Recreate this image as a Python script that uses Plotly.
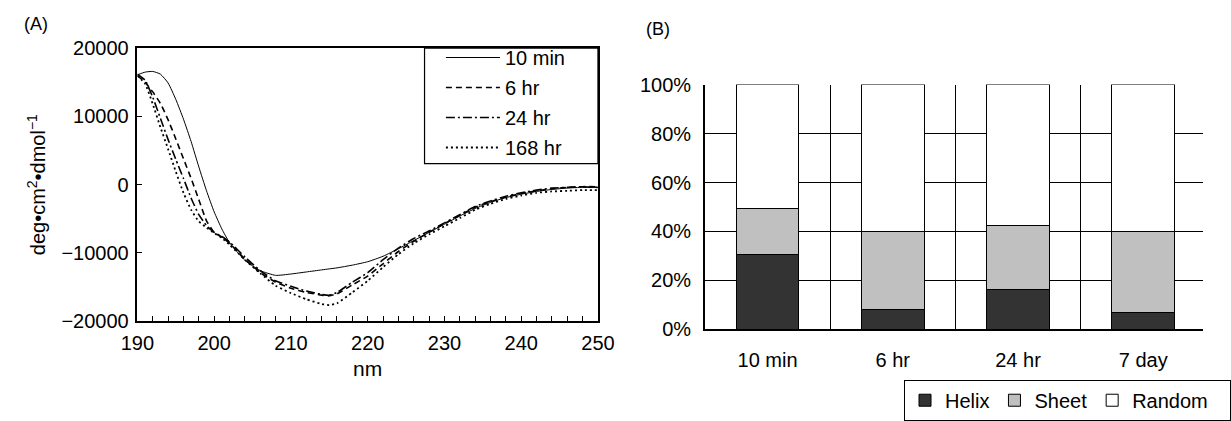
import plotly.graph_objects as go

# ---- Panel A: CD spectra (mean residue ellipticity vs wavelength) ----
wavelength = [190, 191, 192, 193, 194, 195, 196, 197, 198, 199, 200, 201, 202,
              204, 206, 208, 210, 212, 214, 215, 216, 218, 220, 222, 224, 226,
              228, 230, 232, 234, 236, 238, 240, 242, 244, 246, 248, 250]

cd_10min = [16100, 16500, 16600, 16200, 14900, 12500, 9600, 6300, 2600, -900,
            -4000, -6500, -8500, -11100, -12600, -13300, -13100, -12800, -12500,
            -12350, -12200, -11800, -11300, -10500, -9400, -8200, -7000, -5800,
            -4600, -3500, -2600, -1900, -1400, -1000, -700, -500, -400, -400]

cd_6hr = [16000, 15000, 13600, 11900, 9500, 6700, 3800, 900, -2200, -5300,
          -7000, -7700, -8600, -10900, -12900, -14300, -15200, -15800, -16200,
          -16300, -16000, -14700, -13400, -11600, -9800, -8300, -7000, -5700,
          -4500, -3300, -2500, -1800, -1300, -900, -600, -400, -300, -300]

cd_24hr = [16200, 15300, 12800, 9700, 6600, 3700, 900, -2000, -4400, -6000,
           -7000, -7600, -8400, -10600, -12600, -14100, -14900, -15600, -16100,
           -16200, -15800, -14300, -12900, -11000, -9300, -7900, -6800, -5600,
           -4400, -3200, -2400, -1700, -1200, -800, -500, -400, -300, -400]

cd_168hr = [16000, 14800, 11800, 8400, 5200, 1900, -1200, -3700, -5400, -6300,
            -7100, -7800, -8800, -11000, -13000, -14800, -15900, -16800, -17500,
            -17650, -17400, -15800, -14100, -12100, -10200, -8600, -7300, -6100,
            -4900, -3700, -2800, -2100, -1600, -1200, -1000, -900, -800, -800]

spectra_names = ["10 min", "6 hr", "24 hr", "168 hr"]
spectra_dash = ["solid", "6px,4px", "9px,3px,2px,3px", "2px,3px"]
spectra_width = [1, 1.6, 1.6, 1.8]

# ---- Panel B: secondary structure content (%) ----
timepoints = ["10 min", "6 hr", "24 hr", "7 day"]
helix = [30.4, 8.3, 16.4, 7.0]
sheet = [19.0, 31.5, 26.2, 32.8]
random_coil = [50.6, 60.2, 57.4, 60.2]
structure_names = ["Helix", "Sheet", "Random\u00a0\u00a0\u00a0"]

W, H = 1231, 421
FONT = "Liberation Sans, Arial, sans-serif"
FS = 20


def fx(px):
    return px / W


def fy(py):
    return 1 - py / H


fig = go.Figure()

for name, vals, dash, lw in zip(spectra_names,
                                [cd_10min, cd_6hr, cd_24hr, cd_168hr],
                                spectra_dash, spectra_width):
    fig.add_trace(go.Scatter(
        x=wavelength, y=vals, name=name, mode="lines",
        line=dict(color="black", width=lw, dash=dash, shape="spline", smoothing=0.5),
        xaxis="x", yaxis="y", legend="legend", legendgroup=name,
    ))

for name, vals, color in zip(structure_names, [helix, sheet, random_coil],
                             ["#333333", "#c0c0c0", "#ffffff"]):
    fig.add_trace(go.Bar(
        x=timepoints, y=vals, name=name, width=0.5,
        marker=dict(color=color, line=dict(color="black", width=1)),
        xaxis="x2", yaxis="y2", legend="legend2",
    ))

axA_x = [fx(125), fx(603)]
axA_y = [fy(333), fy(40)]
axB_x = [fx(714), 1.0]
axB_y = [fy(342), fy(79)]

fig.update_layout(
    width=W, height=H,
    margin=dict(l=0, r=0, t=0, b=0),
    paper_bgcolor="white", plot_bgcolor="white",
    font=dict(family=FONT, size=FS, color="black"),
    barmode="stack",
    xaxis=dict(
        domain=axA_x, range=[190, 250], dtick=10, tick0=190,
        showline=True, linecolor="black", linewidth=1.5, mirror=True,
        ticks="inside", ticklen=5, tickcolor="black",
        minor=dict(dtick=2, tick0=190, ticks="inside", ticklen=5, tickcolor="black"),
        showgrid=False, zeroline=False, ticklabelstandoff=3,
        title=dict(text="nm", standoff=8, font=dict(size=21)),
        anchor="y",
    ),
    yaxis=dict(
        domain=axA_y, range=[-20000, 20000], dtick=10000, tickformat="d",
        showline=True, linecolor="black", linewidth=1.5, mirror=True,
        ticks="inside", ticklen=5, tickcolor="black",
        showgrid=False, zeroline=False, ticklabelstandoff=3,
        title=dict(text="deg•cm<sup>2</sup>•dmol<sup>−1</sup>", standoff=10, font=dict(size=20)),
        anchor="x",
    ),
    xaxis2=dict(
        domain=axB_x, range=[-0.5, 3.5 - 3 / 130], type="category",
        tickson="boundaries", ticks="", showline=True, linecolor="black", linewidth=1.5,
        showgrid=True, gridcolor="black", gridwidth=1,
        ticklabelstandoff=12,
        anchor="y2",
    ),
    yaxis2=dict(
        domain=axB_y, range=[0, 100], dtick=20, ticksuffix="%",
        showline=True, linecolor="black", linewidth=1.5,
        showgrid=True, gridcolor="black", gridwidth=1, zeroline=False,
        ticks="", ticklabelstandoff=8,
        anchor="x2",
    ),
    legend=dict(
        x=fx(440), y=fy(29), xanchor="left", yanchor="top",
        bgcolor="rgba(0,0,0,0)", borderwidth=0,
        traceorder="grouped", tracegroupgap=1,
        font=dict(size=FS), itemwidth=54,
    ),
    legend2=dict(
        orientation="h", x=fx(921), y=fy(396), xanchor="left", yanchor="top",
        bgcolor="white", bordercolor="black", borderwidth=1,
        font=dict(size=FS), itemwidth=30, traceorder="normal",
    ),
    shapes=[
        dict(type="rect", xref="paper", yref="paper",
             x0=fx(423), x1=fx(603), y0=fy(164), y1=fy(40),
             line=dict(color="black", width=1.2), fillcolor="rgba(0,0,0,0)"),
    ],
    annotations=[
        dict(text="(A)", xref="paper", yref="paper", x=fx(5), y=fy(14),
             xanchor="left", yanchor="middle", showarrow=False, font=dict(size=18)),
        dict(text="(B)", xref="paper", yref="paper", x=fx(651), y=fy(19),
             xanchor="left", yanchor="middle", showarrow=False, font=dict(size=18)),
    ],
)

fig.write_html("out.html")
